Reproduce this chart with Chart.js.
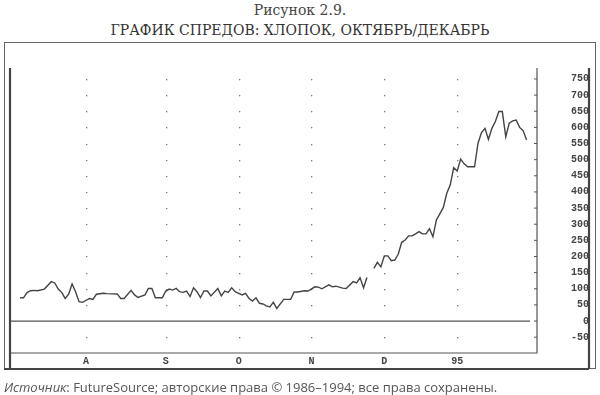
<!DOCTYPE html>
<html>
<head>
<meta charset="utf-8">
<script src="https://cdn.jsdelivr.net/npm/chart.js@4/dist/chart.umd.min.js"></script>
<style>
  html, body { margin: 0; padding: 0; background: #fff; }
  #wrap { position: relative; width: 600px; height: 395px; overflow: hidden; }
  #box { position: absolute; left: 4px; top: 42px; width: 592px; height: 327px; border: 1px solid #666; box-sizing: border-box; }
  canvas { position: absolute; left: 0; top: 0; }
  .t1, .t2 { position: absolute; left: 0; width: 600px; text-align: center; font-family: "DejaVu Serif", serif; font-size: 14px; line-height: 16px; color: #444; }
  .t1 { top: 2px; }
  .t2 { top: 22px; color: #333; }
  .src { position: absolute; left: 4px; top: 378px; font-family: "Open Sans", sans-serif; font-size: 13px; color: #555; white-space: nowrap; }
</style>
</head>
<body>
<div id="wrap">
  <div class="t1">Рисунок 2.9.</div>
  <div class="t2">ГРАФИК СПРЕДОВ: ХЛОПОК, ОКТЯБРЬ/ДЕКАБРЬ</div>
  <div id="box"></div>
  <canvas id="spreads" width="600" height="395"></canvas>
  <div class="src"><i>Источник</i>: FutureSource; авторские права © 1986–1994; все права сохранены.</div>
</div>
<script>
(function(){

    // trading day index and Oct/Dec cotton spread (points)
    const days = [
        0, 1, 2, 3, 4, 5, 7, 9, 10, 11, 12, 13, 14, 15, 16, 17, 18, 20, 21, 22,
        24, 25, 28, 29, 30, 32, 33, 34, 36, 37, 38, 39, 41, 42, 43, 44, 45, 46, 47, 48,
        49, 50, 51, 52, 53, 54, 55, 57, 58, 59, 60, 61, 62, 63, 64, 65, 66, 67, 68, 69,
        70, 71, 72, 73, 74, 76, 78, 79, 80, 82, 83, 85, 86, 87, 89, 90, 91, 93, 94, 96,
        97, 98, 99, 100, 101, 102, 103, 104, 105, 106, 107, 108, 109, 110, 111, 112, 113, 114, 115, 116,
        117, 118, 119, 120, 121, 122, 123, 124, 125, 126, 127, 128, 129, 131, 132, 133, 134, 135, 136, 137,
        138, 139, 140, 141, 142, 143, 144, 145, 146
    ];
    const spread = [
        72, 72, 88, 94, 95, 94, 99, 122, 118, 99, 89, 70, 83, 115, 91, 60, 58, 70, 67, 83,
        86, 85, 84, 70, 70, 95, 81, 73, 81, 101, 101, 72, 72, 93, 99, 96, 101, 91, 89, 93,
        76, 103, 91, 73, 93, 93, 78, 101, 78, 93, 89, 103, 91, 86, 81, 86, 70, 62, 72, 55,
        53, 47, 44, 58, 39, 67, 67, 90, 90, 94, 93, 106, 105, 100, 112, 106, 108, 102, 101, 122,
        118, 134, 103, 135, null, 163, 182, 168, 202, 202, 187, 189, 207, 244, 251, 264, 264, 270, 277, 270,
        270, 286, 261, 313, 332, 352, 396, 422, 475, 465, 502, 487, 478, 478, 551, 584, 597, 563, 597, 618,
        649, 649, 571, 613, 620, 623, 600, 590, 561
    ];

    const monthStarts = [19, 42, 63, 84, 105, 126];
    const monthLabels = ['A', 'S', 'O', 'N', 'D', '95'];
    const yTicks = [-50, 0, 50, 100, 150, 200, 250, 300, 350, 400, 450, 500, 550, 600, 650, 700, 750];

    const ink = '#444';
    const tickFont = { family: 'Liberation Mono', size: 10, weight: 'bold' };

    const framePlugin = {
        id: 'frame',
        beforeDatasetsDraw(chart) {
            const { ctx, chartArea: a, scales: { x, y } } = chart;
            ctx.save();

            // dotted grid: dots where month lines cross the 50-point levels
            ctx.fillStyle = '#777';
            monthStarts.forEach(m => {
                const px = Math.round(x.getPixelForValue(m));
                yTicks.forEach(v => {
                    if (v === 0) return;
                    ctx.fillRect(px, Math.round(y.getPixelForValue(v)), 1.3, 1.3);
                });
            });

            // zero line
            ctx.strokeStyle = '#555';
            ctx.lineWidth = 1.2;
            const y0 = y.getPixelForValue(0);
            ctx.beginPath();
            ctx.moveTo(a.left, y0);
            ctx.lineTo(a.right - 7, y0);
            ctx.stroke();

            // plot border right + bottom
            ctx.lineWidth = 1.2;
            ctx.beginPath();
            ctx.moveTo(a.right, a.top);
            ctx.lineTo(a.right, a.bottom);
            ctx.lineTo(a.left, a.bottom);
            ctx.stroke();

            // small ticks on the right border
            ctx.lineWidth = 1;
            yTicks.forEach(v => {
                const py = y.getPixelForValue(v);
                ctx.beginPath();
                ctx.moveTo(a.right - 3, py);
                ctx.lineTo(a.right, py);
                ctx.stroke();
            });

            // thick left line, axis strip and right rule
            ctx.strokeStyle = '#444';
            ctx.lineWidth = 2.2;
            ctx.beginPath();
            ctx.moveTo(a.left, a.top);
            ctx.lineTo(a.left, x.bottom);
            ctx.stroke();

            ctx.beginPath();
            ctx.moveTo(y.right, a.top);
            ctx.lineTo(y.right, x.bottom);
            ctx.stroke();

            ctx.lineWidth = 2;
            ctx.beginPath();
            ctx.moveTo(4, x.bottom);
            ctx.lineTo(y.right, x.bottom);
            ctx.stroke();

            ctx.restore();
        }
    };

    new Chart(document.getElementById('spreads'), {
        type: 'line',
        data: {
            datasets: [{
                data: days.map((d, i) => ({ x: d, y: spread[i] })),
                borderColor: ink,
                borderWidth: 1.4,
                pointRadius: 0,
                tension: 0,
                spanGaps: false
            }]
        },
        options: {
            responsive: false,
            animation: false,
            devicePixelRatio: 1,
            layout: { padding: { left: 10, top: 68, right: 11, bottom: 26 } },
            plugins: { legend: { display: false }, tooltip: { enabled: false } },
            scales: {
                x: {
                    type: 'linear',
                    min: -2.9,
                    max: 149,
                    grid: { display: false, drawTicks: false },
                    border: { display: false },
                    afterBuildTicks: s => { s.ticks = monthStarts.map(v => ({ value: v })); },
                    afterFit: s => { s.height = 16; },
                    ticks: {
                        autoSkip: false,
                        maxRotation: 0,
                        padding: 2,
                        color: ink,
                        font: tickFont,
                        callback: v => monthLabels[monthStarts.indexOf(v)]
                    }
                },
                y: {
                    position: 'right',
                    min: -99,
                    max: 784,
                    grid: { display: false, drawTicks: false },
                    border: { display: false },
                    afterBuildTicks: s => { s.ticks = yTicks.map(v => ({ value: v })); },
                    afterFit: s => { s.width = 52; },
                    ticks: {
                        padding: 30,
                        crossAlign: 'far',
                        color: ink,
                        font: tickFont
                    }
                }
            }
        },
        plugins: [framePlugin]
    });
})()
</script>
</body>
</html>
